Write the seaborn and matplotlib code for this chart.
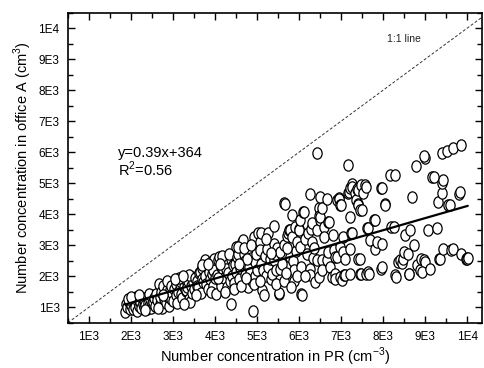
import numpy as np
import pandas as pd
import matplotlib
matplotlib.use("Agg")
import matplotlib.pyplot as plt
from matplotlib.path import Path
from matplotlib.ticker import FixedLocator, MultipleLocator
import seaborn as sns

# Number concentration in PR (x) and in office A (y)
pr_conc = [
    1860, 1880, 1900, 1950, 1980, 2000, 2040, 2060, 2090, 2100, 2130, 2150, 2170, 2200, 2220, 2240, 2260,
    2280, 2300, 2320, 2340, 2370, 2380, 2400, 2420, 2450, 2470, 2480, 2500, 1920, 2010, 2190, 2330, 2430,
    2530, 2550, 2580, 2600, 2620, 2660, 2680, 2700, 2720, 2740, 2770, 2790, 2810, 2830, 2860, 2880, 2900,
    2920, 2950, 2970, 3000, 2640, 2760, 2850, 2940,
    3030, 3060, 3080, 3100, 3130, 3160, 3180, 3200, 3220, 3250, 3280, 3300, 3320, 3340, 3360, 3380, 3400,
    3420, 3440, 3460, 3480, 3500, 3150, 3270, 3390, 3050, 3230,
    3530, 3560, 3580, 3600, 3620, 3640, 3660, 3680, 3700, 3720, 3750, 3770, 3790, 3800, 3820, 3850, 3880,
    3900, 3920, 3940, 3960, 3980, 4000, 3550, 3690, 3830, 3910,
    4030, 4050, 4070, 4090, 4110, 4130, 4150, 4180, 4190, 4220, 4250, 4270, 4290, 4310, 4350, 4370, 4380,
    4400, 4420, 4440, 4470, 4490, 4500, 4080, 4160, 4230, 4330, 4460, 4120,
    4525, 4550, 4570, 4600, 4640, 4660, 4680, 4700, 4720, 4750, 4780, 4800, 4820, 4840, 4860, 4880, 4900,
    4920, 4940, 4960, 4980, 5000, 4540, 4610, 4690, 4770, 4850, 4930, 4580, 4740,
    5030, 5080, 5090, 5080, 5100, 5120, 5150, 5160, 5180, 5200, 5230, 5250, 5270, 5300, 5330, 5350, 5390,
    5390, 5400, 5420, 5450, 5470, 5510, 5530, 5550, 5550, 5060, 5210, 5320, 5440,
    5590, 5630, 5630, 5630, 5670, 5700, 5730, 5750, 5770, 5790, 5830, 5830, 5850, 5870, 5870, 5900, 5920,
    5950, 5990, 5990, 6010, 6020, 6050, 6050, 5680, 5960, 5720, 5810,
    6070, 6100, 6110, 6140, 6180, 6220, 6260, 6260, 6260, 6280, 6300, 6310, 6340, 6380, 6420, 6420, 6420,
    6460, 6460, 6480, 6500, 6500, 6500, 6540, 6540, 6540, 6150, 6350,
    6580, 6580, 6650, 6650, 6690, 6690, 6700, 6730, 6780, 6810, 6820, 6850, 6850, 6860, 6890, 6890, 6940,
    6945, 6970, 6970, 6980, 6985, 7020, 7050, 7050, 7060,
    7090, 7100, 7160, 7170, 7180, 7200, 7200, 7200, 7200, 7240, 7250, 7260, 7260, 7320, 7360, 7380, 7400,
    7400, 7410, 7410, 7440, 7440, 7450, 7480, 7480, 7490,
    7520, 7570, 7580, 7600, 7610, 7640, 7640, 7650, 7690, 7770, 7800, 7810, 7840, 7950, 7950, 7970, 7970,
    7970,
    8030, 8050, 8170, 8190, 8250, 8280, 8290, 8310, 8360, 8390, 8440, 8480, 8500, 8520, 8580, 8600, 8620,
    8640, 8690, 8740, 8780, 8800, 8880, 8900, 8960, 9000, 9000, 8980, 8920,
    9060, 9120, 9170, 9200, 9280, 9290, 9330, 9350, 9390, 9390, 9390, 9430, 9430, 9510, 9550, 9580, 9610,
    9670, 9670, 9800, 9830, 9850, 9850, 9960, 9980, 10000, 10010,
]
office_conc = [
    840, 1120, 1000, 1180, 930, 1060, 1250, 950, 1100, 1020, 1320, 880, 1180, 1050, 1160, 960, 1300,
    1100, 1000, 1230, 1080, 1330, 940, 1150, 1050, 1250, 1380, 980, 1140, 1250, 1320, 1400, 900, 1420,
    1160, 1300, 1050, 1430, 1220, 1760, 1100, 1330, 1500, 960, 1700, 1250, 1420, 1150, 1560, 1340, 1050,
    1540, 1250, 1450, 1210, 980, 1380, 1850, 1700,
    1600, 1380, 1750, 1150, 1500, 1760, 1810, 1430, 1300, 1650, 1900, 1520, 1540, 1640, 1860, 1250, 1160,
    1700, 1980, 1450, 1800, 1600, 1950, 1100, 2050, 1900, 2000,
    1950, 1860, 1700, 1650, 2100, 2130, 1450, 1900, 2250, 1800, 2000, 2510, 1750, 2300, 1600, 2150, 1900,
    2460, 2080, 1700, 2200, 2560, 1950, 1400, 2350, 2400, 1500,
    1430, 2050, 2510, 2620, 1850, 2300, 1700, 2080, 2200, 1950, 2450, 2240, 1650, 2100, 1860, 2550, 1110,
    2000, 2350, 1780, 2400, 2940, 2150, 1950, 2650, 1500, 2700, 1600, 2400,
    2620, 2730, 1900, 2250, 3110, 3160, 2730, 2050, 2500, 2350, 1650, 2300, 2800, 2100, 2600, 1860, 890,
    3270, 2450, 2000, 2700, 2200, 2950, 1700, 2900, 2550, 3000, 1750, 2400, 1950,
    3380, 3110, 3380, 2840, 2400, 1540, 2190, 1380, 2650, 2000, 2890, 2300, 3380, 2550, 1900, 2080, 3050,
    2510, 3610, 2700, 2200, 2900, 1430, 1450, 2240, 2780, 1860, 3200, 2750, 1750,
    2400, 3000, 1860, 4350, 4330, 3300, 3380, 3490, 3480, 2620, 3270, 3970, 2500, 2190, 1860, 3590, 2800,
    3100, 3510, 3480, 3810, 2940, 1430, 2300, 2100, 2000, 2900, 1650,
    1380, 4080, 4080, 3200, 2730, 3400, 2240, 2030, 4640, 3510, 3100, 3700, 2600, 1810, 5970, 3490, 2510,
    4190, 1970, 3940, 3810, 4560, 3920, 2510, 4190, 2190, 2000, 2900,
    3590, 3270, 4480, 2510, 3750, 2780, 3760, 2300, 1970, 3320, 2840, 2080, 1920, 2620, 4460, 2620, 4510,
    4480, 2940, 1970, 4300, 4290, 1870, 3270, 2780, 2030,
    2030, 2570, 5590, 4670, 4730, 4830, 3920, 2890, 2060, 3380, 3380, 4970, 4890, 4670, 4460, 4800, 4780,
    4330, 4300, 2570, 4130, 2570, 2080, 4940, 2080, 4130,
    4690, 4940, 4870, 2080, 3540, 3540, 2130, 2080, 3160, 3810, 3810, 2890, 3110, 4830, 2240, 3050, 2300,
    4840,
    4330, 4300, 5270, 3590, 3590, 5250, 2030, 1990, 2460, 2510, 2410, 2570, 2780, 3320, 2730, 2080, 2060,
    3490, 4540, 3000, 5540, 2350, 2190, 2570, 2510, 2460, 5810, 5860, 2130,
    3480, 2240, 5210, 5210, 3540, 4400, 2570, 2570, 5970, 4670, 5000, 5100, 2890, 6020, 4300, 4290, 2840,
    6130, 2890, 4650, 4730, 6240, 2730, 2570, 2600, 2550, 2600,
]
fit_slope = 0.39
fit_intercept = 364
fit_label = "y=0.39x+364"
r2_label = "R$^2$=0.56"
tick_values = [1000, 2000, 3000, 4000, 5000, 6000, 7000, 8000, 9000, 10000]
tick_labels = ["1E3", "2E3", "3E3", "4E3", "5E3", "6E3", "7E3", "8E3", "9E3", "1E4"]

df = pd.DataFrame({"pr": pr_conc, "office": office_conc})

sns.set_theme(style="ticks")
plt.rcParams["font.family"] = ["Liberation Sans", "DejaVu Sans"]
plt.rcParams["mathtext.fontset"] = "custom"
plt.rcParams["mathtext.rm"] = "Liberation Sans"
plt.rcParams["text.color"] = "black"
plt.rcParams["axes.labelcolor"] = "black"

fig = plt.figure(figsize=(4.85, 3.68), dpi=100)
ax = fig.add_axes([0.140, 0.123, 0.854, 0.843])

# open ellipse marker, a bit taller than wide
circ = Path.unit_circle()
ellipse = Path(circ.vertices * np.array([0.82, 1.0]), circ.codes)

sns.scatterplot(data=df, x="pr", y="office", ax=ax, marker=ellipse, s=66,
                facecolor="white", edgecolor="black", linewidth=0.9, zorder=2)

# 1:1 line across the whole frame
xlim = (500, 10350)
ylim = (500, 10500)
one = np.array([xlim[0], xlim[1]])
ax.plot(one, one, color="#333333", lw=0.7, ls=(0, (3, 2)), zorder=1)

# linear fit as printed on the chart
xf = np.linspace(min(pr_conc), max(pr_conc), 50)
sns.lineplot(x=xf, y=fit_slope * xf + fit_intercept, ax=ax, color="black", lw=1.6, zorder=3)

ax.set_xlim(*xlim)
ax.set_ylim(*ylim)
ax.xaxis.set_major_locator(FixedLocator(tick_values))
ax.yaxis.set_major_locator(FixedLocator(tick_values))
ax.set_xticklabels(tick_labels)
ax.set_yticklabels(tick_labels)
ax.xaxis.set_minor_locator(MultipleLocator(500))
ax.yaxis.set_minor_locator(MultipleLocator(500))
ax.tick_params(which="both", direction="in", top=True, right=True, width=1, colors="black")
ax.tick_params(which="major", length=5, labelsize=8.5, pad=6)
ax.tick_params(which="minor", length=3.5)
for sp in ax.spines.values():
    sp.set_linewidth(1.2)
    sp.set_color("black")

ax.text(1680, 5980, fit_label, fontsize=10.5, va="center", ha="left")
ax.text(1680, 5430, r2_label, fontsize=10.5, va="center", ha="left")
ax.text(8100, 9640, "1:1 line", fontsize=7.5, va="center", ha="left", color="#222222")

ax.set_xlabel("Number concentration in PR (cm$^{-3}$)", fontsize=10.5, labelpad=2)
ax.set_ylabel("Number concentration in office A (cm$^{3}$)", fontsize=10.5, labelpad=3)

fig.savefig("out.png", dpi=100)
